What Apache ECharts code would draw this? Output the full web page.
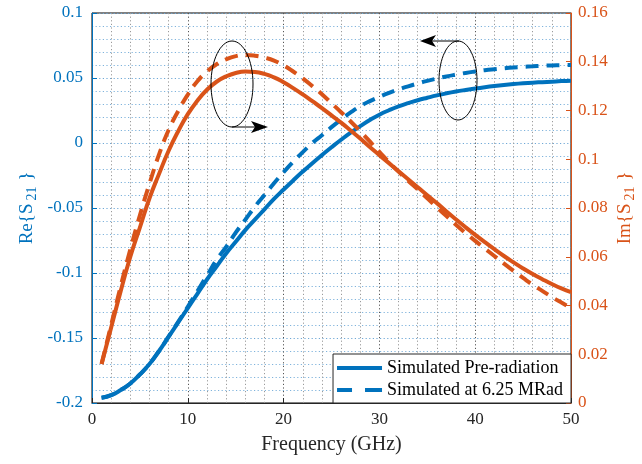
<!DOCTYPE html>
<html>
<head>
<meta charset="utf-8">
<script src="https://cdn.jsdelivr.net/npm/echarts@6/dist/echarts.min.js"></script>
<style>
html,body{margin:0;padding:0;background:#fff;}
#c{width:642px;height:464px;}
</style>
</head>
<body>
<div id="c"></div>
<script>
// ---- Data ----
const freqGHz = [1,2,3,4,5,6,7,8,9,10,11,12,13,14,15,16,17,18,19,20,21,22,23,24,25,26,27,28,29,30,31,32,33,34,35,36,37,38,39,40,41,42,43,44,45,46,47,48,49,50];
const reS21Pre = [-0.196,-0.194,-0.190,-0.185,-0.178,-0.170,-0.160,-0.149,-0.138,-0.127,-0.116,-0.105,-0.095,-0.085,-0.076,-0.067,-0.059,-0.051,-0.043,-0.0358,-0.0288,-0.022,-0.0155,-0.0093,-0.0033,0.0025,0.008,0.013,0.0177,0.0218,0.0252,0.0282,0.0307,0.0329,0.0348,0.0366,0.0382,0.0396,0.0408,0.0419,0.0429,0.0438,0.0446,0.0453,0.0459,0.0464,0.0468,0.0472,0.0476,0.0479];
const reS21Rad = [-0.196,-0.194,-0.190,-0.185,-0.178,-0.170,-0.160,-0.149,-0.1375,-0.126,-0.114,-0.102,-0.090,-0.080,-0.069,-0.059,-0.049,-0.040,-0.031,-0.0225,-0.0145,-0.007,0.000,0.006,0.0122,0.018,0.0235,0.0283,0.0322,0.0355,0.0385,0.0412,0.0436,0.0458,0.0478,0.0496,0.0512,0.0526,0.0539,0.055,0.056,0.0568,0.0575,0.0581,0.0586,0.059,0.0594,0.0597,0.0599,0.060];
const imS21Pre = [0.016,0.031,0.046,0.060,0.072,0.084,0.094,0.1035,0.1115,0.1185,0.124,0.1285,0.1318,0.134,0.1354,0.136,0.1358,0.135,0.1336,0.1316,0.1292,0.1266,0.1238,0.121,0.118,0.115,0.1118,0.1085,0.105,0.1017,0.0984,0.0951,0.0918,0.0885,0.0852,0.082,0.0786,0.0753,0.0721,0.069,0.066,0.0631,0.0603,0.0577,0.0552,0.0529,0.0508,0.0488,0.047,0.0455];
const imS21Rad = [0.016,0.032,0.048,0.063,0.077,0.090,0.102,0.112,0.1198,0.1265,0.132,0.136,0.139,0.141,0.1423,0.1428,0.1425,0.1417,0.1405,0.1385,0.136,0.1332,0.130,0.1267,0.123,0.1193,0.1155,0.1115,0.1073,0.103,0.0988,0.0949,0.0912,0.0876,0.084,0.0803,0.0767,0.0731,0.0697,0.0665,0.0634,0.0603,0.0572,0.0542,0.0513,0.0485,0.046,0.0435,0.0412,0.039];
const legendNames = ['Simulated Pre-radiation','Simulated at 6.25 MRad'];
const xTicks = [0,10,20,30,40,50];

const BLUE = '#0072BD', ORANGE = '#D95319';
const FONT = '"Liberation Serif","Times New Roman",serif';

function zip(xs, ys){ return xs.map((x,i)=>[x, ys[i]]); }
function fmt(v){ return String(+(+v).toFixed(3)); }

const chart = echarts.init(document.getElementById('c'), null, {renderer:'canvas'});
const W = 642, H = 464;
const gl = 92, gr = 571, gt = 13, gb = 403;

const solidIcon = 'path://M0,0H45V4H0Z';
const dashIcon = 'path://M0,0H15V4H0Z M28,0H45V4H28Z';

function axisTitle(text, color, x){
  return {
    type: 'text', x: x, y: (gt + gb) / 2, rotation: Math.PI / 2, z: 20,
    style: {
      text: text, align: 'center', verticalAlign: 'middle', fill: color,
      font: '19px ' + FONT,
      rich: {
        n: {fontFamily: FONT, fontSize: 19, fill: color, lineHeight: 24, verticalAlign: 'middle'},
        s: {fontFamily: FONT, fontSize: 14, fill: color, lineHeight: 24, verticalAlign: 'bottom', padding: [6,1,0,3]}
      }
    }
  };
}

chart.setOption({
  animation: false,
  backgroundColor: '#fff',
  grid: {left: gl, right: W - gr, top: gt, bottom: H - gb, containLabel: false, outerBoundsMode: 'none',
         show: true, borderColor: '#000', borderWidth: 1, backgroundColor: 'transparent'},
  legend: {
    data: [{name: legendNames[0], icon: solidIcon}, {name: legendNames[1], icon: dashIcon}],
    orient: 'vertical',
    right: W - gr, bottom: H - gb,
    backgroundColor: '#fff', borderColor: '#262626', borderWidth: 1, borderRadius: 0,
    padding: [5, 8, 4, 4],
    itemWidth: 45, itemHeight: 4, itemGap: 4,
    textStyle: {fontFamily: FONT, fontSize: 18, color: '#000', lineHeight: 18},
    selectedMode: false
  },
  xAxis: {
    type: 'value', min: 0, max: 50, interval: 10,
    name: 'Frequency (GHz)', nameLocation: 'middle', nameGap: 32,
    nameTextStyle: {fontFamily: FONT, fontSize: 20, color: '#262626'},
    axisLine: {onZero: false, lineStyle: {color: '#262626', width: 1}},
    axisTick: {inside: true, length: 5, lineStyle: {color: '#262626'}},
    axisLabel: {fontFamily: FONT, fontSize: 17, color: '#262626', margin: 8, formatter: v => xTicks.includes(v) ? String(v) : ''},
    splitLine: {show: true, lineStyle: {color: '#555', type: [1.2, 2.4], width: 1}},
    minorTick: {show: false, splitNumber: 5},
    minorSplitLine: {show: true, lineStyle: {color: '#9a9a9a', type: [1.2, 2.4], width: 1}}
  },
  yAxis: [
    {
      type: 'value', min: -0.2, max: 0.1, interval: 0.05, position: 'left',
      axisLine: {show: true, onZero: false, lineStyle: {color: BLUE, width: 1}},
      axisTick: {show: true, inside: true, length: 5, lineStyle: {color: BLUE}},
      axisLabel: {fontFamily: FONT, fontSize: 17, color: BLUE, margin: 9, formatter: fmt},
      splitLine: {show: true, lineStyle: {color: '#6fa8d6', type: [1.2, 2.4], width: 1}},
      minorTick: {show: false, splitNumber: 5},
      minorSplitLine: {show: true, lineStyle: {color: '#7fb3dc', type: [1.2, 2.4], width: 1}}
    },
    {
      type: 'value', min: 0, max: 0.16, interval: 0.02, position: 'right',
      axisLine: {show: true, onZero: false, lineStyle: {color: ORANGE, width: 1}},
      axisTick: {show: true, inside: true, length: 5, lineStyle: {color: ORANGE}},
      axisLabel: {fontFamily: FONT, fontSize: 17, color: ORANGE, margin: 7, formatter: fmt},
      splitLine: {show: false}
    }
  ],
  series: [
    {name: legendNames[0], type: 'line', yAxisIndex: 0, data: zip(freqGHz, reS21Pre), showSymbol: false, symbol: 'none', smooth: true,
     lineStyle: {color: BLUE, width: 4}, itemStyle: {color: BLUE}, z: 3},
    {name: legendNames[1], type: 'line', yAxisIndex: 0, data: zip(freqGHz, reS21Rad), showSymbol: false, symbol: 'none', smooth: true,
     lineStyle: {color: BLUE, width: 4, type: [13, 8]}, itemStyle: {color: BLUE}, z: 3},
    {name: 'Im Pre-radiation', type: 'line', yAxisIndex: 1, data: zip(freqGHz, imS21Pre), showSymbol: false, symbol: 'none', smooth: true,
     lineStyle: {color: ORANGE, width: 4}, itemStyle: {color: ORANGE}, z: 4},
    {name: 'Im at 6.25 MRad', type: 'line', yAxisIndex: 1, data: zip(freqGHz, imS21Rad), showSymbol: false, symbol: 'none', smooth: true,
     lineStyle: {color: ORANGE, width: 4, type: [13, 8]}, itemStyle: {color: ORANGE}, z: 4}
  ],
  graphic: [
    axisTitle('{n|Re{S}{s|21}{n| }}', BLUE, 27),
    axisTitle('{n|Im{S}{s|21}{n| }}', ORANGE, 625),
    // annotation: ellipse around Im curves with arrow to the right axis
    {type: 'ellipse', shape: {cx: 232, cy: 84, rx: 21, ry: 43}, style: {fill: 'none', stroke: '#000', lineWidth: 1}, z: 10},
    {type: 'line', shape: {x1: 232, y1: 127, x2: 256, y2: 127}, style: {stroke: '#000', lineWidth: 1}, z: 10},
    {type: 'polygon', shape: {points: [[268,127],[251,121],[255,127],[251,133]]}, style: {fill: '#000'}, z: 10},
    // annotation: ellipse around Re curves with arrow to the left axis
    {type: 'ellipse', shape: {cx: 458, cy: 80.5, rx: 19, ry: 39.5}, style: {fill: 'none', stroke: '#000', lineWidth: 1}, z: 10},
    {type: 'line', shape: {x1: 459, y1: 41, x2: 432, y2: 41}, style: {stroke: '#000', lineWidth: 1}, z: 10},
    {type: 'polygon', shape: {points: [[420,41],[436,35],[432,41],[436,47]]}, style: {fill: '#000'}, z: 10}
  ]
});
</script>
</body>
</html>
